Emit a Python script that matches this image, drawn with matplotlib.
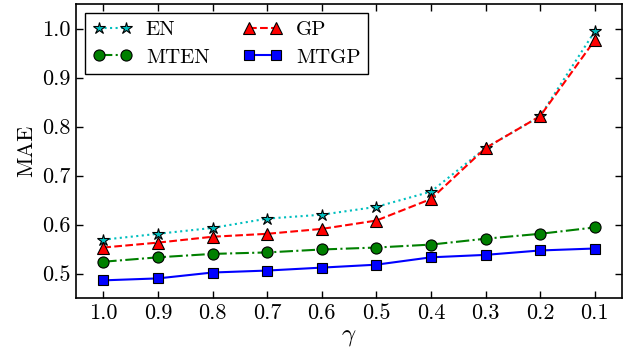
import matplotlib
matplotlib.use("Agg")
import matplotlib.pyplot as plt
import numpy as np

plt.rcParams['font.family'] = ['cmr10', 'DejaVu Serif']
plt.rcParams['mathtext.fontset'] = 'cm'
plt.rcParams['axes.formatter.use_mathtext'] = True

gamma = [1.0, 0.9, 0.8, 0.7, 0.6, 0.5, 0.4, 0.3, 0.2, 0.1]
gamma_labels = ["1.0", "0.9", "0.8", "0.7", "0.6", "0.5", "0.4", "0.3", "0.2", "0.1"]
en = [0.569, 0.581, 0.593, 0.612, 0.620, 0.636, 0.667, 0.756, 0.821, 0.994]
gp = [0.553, 0.563, 0.575, 0.581, 0.591, 0.608, 0.652, 0.756, 0.821, 0.976]
mten = [0.524, 0.533, 0.540, 0.543, 0.549, 0.553, 0.559, 0.571, 0.581, 0.594]
mtgp = [0.486, 0.490, 0.502, 0.506, 0.512, 0.518, 0.533, 0.538, 0.547, 0.551]
yticks = [0.5, 0.6, 0.7, 0.8, 0.9, 1.0]

fig = plt.figure(figsize=(6.31, 3.54), dpi=100)
ax = fig.add_axes([76/631, 1 - 298/354, (622-76)/631, (298-4)/354])

x = np.arange(len(gamma))
h_en, = ax.plot(x, en, ':', color='c', lw=1.5, marker='*', ms=9, mfc='c', mec='k', mew=0.8, label='EN')
h_gp, = ax.plot(x, gp, '--', color='r', lw=1.5, marker='^', ms=8, mfc='r', mec='k', mew=0.8, label='GP')
h_mten, = ax.plot(x, mten, '-.', color='g', lw=1.5, marker='o', ms=8, mfc='g', mec='k', mew=0.8, label='MTEN')
h_mtgp, = ax.plot(x, mtgp, '-', color='b', lw=1.5, marker='s', ms=7.5, mfc='b', mec='k', mew=0.8, label='MTGP')

ax.set_xlim(-0.5, len(gamma) - 0.5)
ax.set_ylim(0.45, 1.05)
ax.set_xticks(x)
ax.set_xticklabels(gamma_labels)
ax.set_yticks(yticks)
ax.set_yticklabels([f"{v:.1f}" for v in yticks])
ax.tick_params(direction='in', top=True, right=True, labelsize=16, length=5, width=1, pad=4)
for s in ax.spines.values():
    s.set_linewidth(1.2)
ax.set_ylabel('MAE', fontsize=16, labelpad=4)
ax.set_xlabel(r'$\gamma$', fontsize=18, labelpad=2)

leg = ax.legend([h_en, h_mten, h_gp, h_mtgp], ['EN', 'MTEN', 'GP', 'MTGP'],
                loc='upper left', ncol=2, fontsize=15, frameon=True, fancybox=False,
                edgecolor='k', framealpha=1, numpoints=2, handlelength=1.9,
                handletextpad=0.65, columnspacing=1.6, borderpad=0.35,
                borderaxespad=0.45, labelspacing=0.42)
leg.get_frame().set_linewidth(1.0)

fig.savefig('out.png', dpi=100)
